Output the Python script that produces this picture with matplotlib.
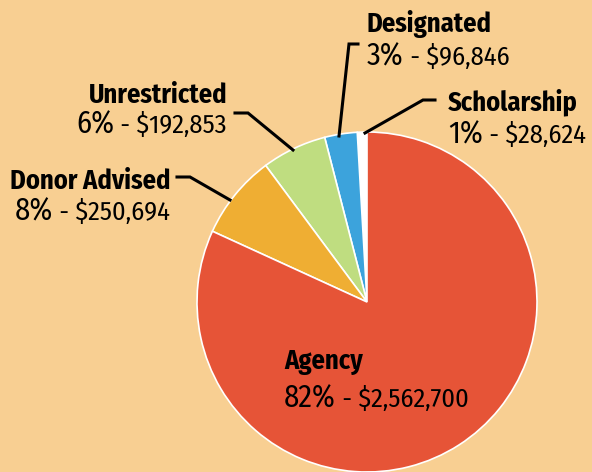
import matplotlib
matplotlib.use('Agg')
import matplotlib.pyplot as plt
from matplotlib import font_manager

# data
categories = ['Scholarship', 'Designated', 'Unrestricted', 'Donor Advised', 'Agency']
amounts = [28624, 96846, 192853, 250694, 2562700]
percents = ['1%', '3%', '6%', '8%', '82%']
colors = ['#FFFFFF', '#3CA3DC', '#BFDD80', '#EFAE33', '#E65437']

bg = '#F8CF92'
names = set(f.name for f in font_manager.fontManager.ttflist)
wanted = ['Fira Sans Condensed', 'PT Sans Narrow', 'Roboto Condensed']
fam = [n for n in wanted if n in names][:1] + ['DejaVu Sans']
plt.rcParams['font.family'] = fam

W, H = 592, 472
fig = plt.figure(figsize=(W / 100, H / 100), dpi=100, facecolor=bg)
ax = fig.add_axes([0, 0, 1, 1])

# pie (pixel coordinates, y measured from bottom)
ax.pie(amounts, colors=colors, startangle=90, counterclock=True,
       center=(367, H - 302), radius=170,
       wedgeprops=dict(edgecolor='white', linewidth=1.2), frame=True)
ax.set_xlim(0, W)
ax.set_ylim(0, H)
ax.set_facecolor(bg)
ax.axis('off')

# label positions: (x anchor, baseline title, baseline value line, align)
label_pos = {
    'Scholarship': (448, 110, 143, 'left'),
    'Designated': (367, 32, 65, 'left'),
    'Unrestricted': (227, 103, 133, 'right'),
    'Donor Advised': (170, 189, 220, 'right'),
    'Agency': (284, 369, 407, 'left'),
}
# leader lines (pixel coords from top)
leaders = {
    'Scholarship': [(365, 133), (423, 100), (435, 100)],
    'Designated': [(339, 136), (349, 44), (358, 44)],
    'Unrestricted': [(293, 150), (248, 113), (235, 113)],
    'Donor Advised': [(230, 200), (190, 177), (177, 177)],
}

for name, pts in leaders.items():
    xs = [p[0] for p in pts]
    ys = [H - p[1] for p in pts]
    ax.plot(xs, ys, color='black', lw=2.2, solid_joinstyle='miter', zorder=5)

fig.canvas.draw()
renderer = fig.canvas.get_renderer()

for name, pct, amt in zip(categories, percents, amounts):
    x, yb1, yb2, align = label_pos[name]
    ax.text(x, H - yb1, name, fontsize=19, fontweight='bold', ha=align,
            va='baseline', color='black')
    money = ' - ${:,}'.format(amt)
    if align == 'left':
        t1 = ax.text(x, H - yb2, pct, fontsize=22, ha='left', va='baseline')
        bb = t1.get_window_extent(renderer)
        ax.text(bb.x1, H - yb2, money, fontsize=19, ha='left', va='baseline')
    else:
        t2 = ax.text(x, H - yb2, money, fontsize=19, ha='right', va='baseline')
        bb = t2.get_window_extent(renderer)
        ax.text(bb.x0, H - yb2, pct, fontsize=22, ha='right', va='baseline')

fig.savefig('out.png', dpi=100, facecolor=bg)
